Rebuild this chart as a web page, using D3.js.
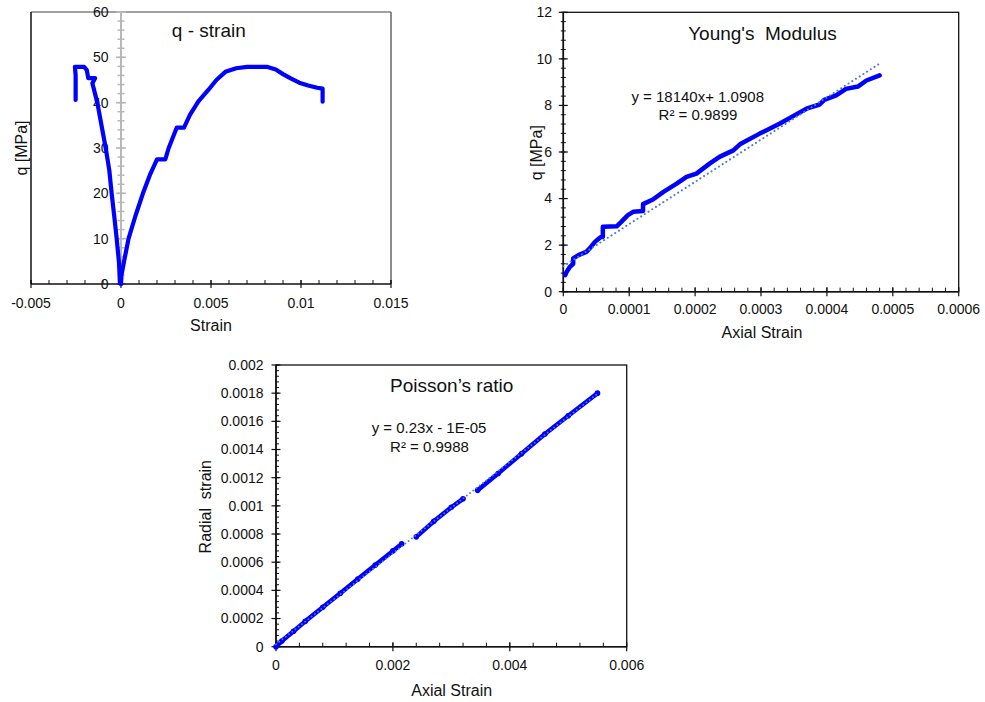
<!DOCTYPE html>
<html>
<head>
<meta charset="utf-8">
<script src="https://cdn.jsdelivr.net/npm/d3@7"></script>
<style>
  html, body { margin: 0; padding: 0; background: #fff; }
  svg { display: block; font-family: "Liberation Sans", Arial, sans-serif; }
</style>
</head>
<body>
<svg id="chart" width="985" height="702"></svg>
<script>
// ---------- q - strain: radial branch (negative strain) and axial branch ----------
const radialStrain = [0, -0.00006, -0.00011, -0.00024, -0.00037, -0.00052, -0.00065, -0.00085, -0.00107, -0.00131, -0.00159, -0.00144, -0.00182, -0.0019, -0.00205, -0.00256, -0.00252, -0.00252];
const radialQ      = [0, 0.2, 4.6, 10, 14.8, 20, 25.1, 30, 34.7, 39.9, 44.3, 45.4, 45.4, 47.2, 47.9, 47.9, 46, 40.6];

const axialStrain = [0, 0.00003, 0.00017, 0.00042, 0.0008, 0.00122, 0.0016, 0.002, 0.00246, 0.00265, 0.0031, 0.0035, 0.00383, 0.0043, 0.00485, 0.0053, 0.0058, 0.0064, 0.007, 0.0081, 0.0086, 0.009, 0.0094, 0.0099, 0.0104, 0.0109, 0.0112, 0.0112];
const axialQ      = [0, 2, 5, 10, 15, 20, 24, 27.5, 27.5, 30, 34.5, 34.5, 37.3, 40.3, 42.8, 45.0, 46.8, 47.6, 47.9, 47.9, 47.3, 46.3, 45.4, 44.4, 43.8, 43.3, 43.1, 40.2];

const qsXTicks = [-0.005, 0, 0.005, 0.01, 0.015];
const qsYTicks = [0, 10, 20, 30, 40, 50, 60];

// ---------- Young's modulus: initial loading range ----------
const ymStrain = [0.000003, 0.000005, 0.00001, 0.000015, 0.000015, 0.000023, 0.000035, 0.00004, 0.000048, 0.000056, 0.00006, 0.00006, 0.000081, 0.000088, 0.000098, 0.000106, 0.000121, 0.000121, 0.000136, 0.000152, 0.000172, 0.000187, 0.000202, 0.000222, 0.000237, 0.000258, 0.000268, 0.000298, 0.000328, 0.000348, 0.000369, 0.000389, 0.000396, 0.000414, 0.000429, 0.000447, 0.00046, 0.00048];
const ymQ      = [0.71, 0.85, 1.07, 1.2, 1.43, 1.57, 1.71, 1.86, 2.14, 2.33, 2.36, 2.79, 2.81, 3.0, 3.29, 3.43, 3.47, 3.76, 3.96, 4.29, 4.64, 4.93, 5.07, 5.5, 5.79, 6.07, 6.33, 6.79, 7.21, 7.53, 7.86, 8.04, 8.24, 8.43, 8.71, 8.81, 9.07, 9.29];
const ymFit      = [18140, 1.0908];      // slope, intercept
const ymFitRange = [0, 0.00048];
const ymFitText  = ["y = 18140x+ 1.0908", "R\u00B2 = 0.9899"];

const ymXTicks = [0, 0.0001, 0.0002, 0.0003, 0.0004, 0.0005, 0.0006];
const ymYTicks = [0, 2, 4, 6, 8, 10, 12];

// ---------- Poisson's ratio: three recorded segments ----------
const prAxial = [
  [0, 0.0001, 0.0003, 0.0005, 0.0008, 0.0011, 0.0014, 0.0017, 0.002, 0.00215],
  [0.0024, 0.0027, 0.003, 0.0032],
  [0.00345, 0.0038, 0.0042, 0.0046, 0.005, 0.0055]
];
const prRadial = [
  [0, 0.00004, 0.00011, 0.00018, 0.00028, 0.00038, 0.00048, 0.00058, 0.00068, 0.00073],
  [0.00078, 0.00089, 0.00099, 0.00105],
  [0.00111, 0.00123, 0.00137, 0.00151, 0.00164, 0.0018]
];
const prFitText = ["y = 0.23x - 1E-05", "R\u00B2 = 0.9988"];

const prXTicks = [0, 0.002, 0.004, 0.006];
const prYTicks = [0, 0.0002, 0.0004, 0.0006, 0.0008, 0.001, 0.0012, 0.0014, 0.0016, 0.0018, 0.002];

// ---------- drawing helpers ----------
const svg = d3.select("#chart");
const DATA = "#0000ff";
const TREND = "#4a7bd0";
const fmt = v => String(+v.toPrecision(6));

function steps(start, end, n) {          // evenly spaced minor tick positions
  return d3.range(n + 1).map(i => start + (end - start) * i / n);
}

function tickMarks(g, values, scale, orient, pos, len, color, width) {
  const sel = g.append("g").selectAll("line").data(values).join("line")
    .attr("stroke", color).attr("stroke-width", width);
  if (orient === "x") {
    sel.attr("x1", d => scale(d)).attr("x2", d => scale(d))
       .attr("y1", pos + len[0]).attr("y2", pos + len[1]);
  } else {
    sel.attr("y1", d => scale(d)).attr("y2", d => scale(d))
       .attr("x1", pos + len[0]).attr("x2", pos + len[1]);
  }
}

function xLabels(g, values, x, cy) {
  g.append("g").selectAll("text").data(values).join("text")
    .attr("x", d => x(d)).attr("y", cy).attr("dy", "0.35em")
    .attr("text-anchor", "middle").attr("font-size", 14).attr("fill", "#111")
    .text(fmt);
}
function yLabels(g, values, y, rx) {
  g.append("g").selectAll("text").data(values).join("text")
    .attr("x", rx).attr("y", d => y(d)).attr("dy", "0.35em")
    .attr("text-anchor", "end").attr("font-size", 14).attr("fill", "#111")
    .text(fmt);
}
function label(g, txt, x, y, size, rotate) {
  const t = g.append("text").attr("font-size", size).attr("fill", "#111")
    .attr("text-anchor", "middle").text(txt);
  if (rotate) t.attr("transform", `translate(${x},${y}) rotate(-90)`);
  else t.attr("x", x).attr("y", y);
  return t;
}

// ================= Panel 1: q - strain =================
(function () {
  const L = 31, R = 391, T = 12, B = 284;
  const x = d3.scaleLinear().domain([-0.005, 0.015]).range([L, R]);
  const y = d3.scaleLinear().domain([0, 60]).range([B, T]);
  const g = svg.append("g");

  g.append("line").attr("x1", L).attr("x2", R).attr("y1", T).attr("y2", T).attr("stroke", "#444").attr("stroke-width", 1.2);
  g.append("line").attr("x1", R).attr("x2", R).attr("y1", T).attr("y2", B).attr("stroke", "#666").attr("stroke-width", 1.5);
  g.append("line").attr("x1", L).attr("x2", L).attr("y1", T).attr("y2", B).attr("stroke", "#111").attr("stroke-width", 1.5);

  // gray vertical axis through zero strain
  const x0 = x(0);
  g.append("line").attr("x1", x0).attr("x2", x0).attr("y1", T).attr("y2", B).attr("stroke", "#b8b8b8").attr("stroke-width", 2);
  tickMarks(g, steps(0, 60, 30), y, "y", x0, [-3.5, 3.5], "#b8b8b8", 1.5);
  tickMarks(g, qsYTicks, y, "y", x0, [-5, 5], "#b8b8b8", 1.5);

  // horizontal axis
  tickMarks(g, steps(-0.005, 0.015, 20), x, "x", B, [-4, 0], "#111", 1);
  tickMarks(g, qsXTicks, x, "x", B, [-4, 4], "#111", 1.2);
  g.append("line").attr("x1", L).attr("x2", R).attr("y1", B).attr("y2", B).attr("stroke", "#111").attr("stroke-width", 1.5);

  yLabels(g, qsYTicks, y, 108.5);
  xLabels(g, qsXTicks, x, 303.5);

  const line = d3.line().x(d => x(d[0])).y(d => y(d[1]));
  [d3.zip(radialStrain, radialQ), d3.zip(axialStrain, axialQ)].forEach(s => {
    g.append("path").attr("d", line(s)).attr("fill", "none").attr("stroke", DATA)
      .attr("stroke-width", 4.2).attr("stroke-linejoin", "round").attr("stroke-linecap", "round");
  });

  label(g, "q - strain", 208.8, 36.5, 19);
  label(g, "Strain", 211, 330.6, 16);
  label(g, "q [MPa]", 27.3, 148, 16, true);
})();

// ================= Panel 2: Young's modulus =================
(function () {
  const L = 563.3, R = 958.7, T = 12.3, B = 291.7;
  const x = d3.scaleLinear().domain([0, 0.0006]).range([L, R]);
  const y = d3.scaleLinear().domain([0, 12]).range([B, T]);
  const g = svg.append("g");

  g.append("rect").attr("x", L).attr("y", T).attr("width", R - L).attr("height", B - T)
    .attr("fill", "none").attr("stroke", "#111").attr("stroke-width", 1.3);

  tickMarks(g, steps(0, 12, 30), y, "y", L, [-2.5, 2.5], "#111", 1);
  tickMarks(g, ymYTicks, y, "y", L, [-4.5, 4.5], "#111", 1.2);
  tickMarks(g, steps(0, 0.0006, 30), x, "x", B, [-4, 0], "#111", 1);
  tickMarks(g, ymXTicks, x, "x", B, [-4.5, 4.5], "#111", 1.2);
  g.append("line").attr("x1", L).attr("x2", L).attr("y1", T).attr("y2", B).attr("stroke", "#111").attr("stroke-width", 1.6);
  g.append("line").attr("x1", L).attr("x2", R).attr("y1", B).attr("y2", B).attr("stroke", "#111").attr("stroke-width", 1.6);

  yLabels(g, ymYTicks, y, 552);
  xLabels(g, ymXTicks, x, 309.5);

  const line = d3.line().x(d => x(d[0])).y(d => y(d[1]));
  g.append("path").attr("d", line(d3.zip(ymStrain, ymQ))).attr("fill", "none").attr("stroke", DATA)
    .attr("stroke-width", 4.5).attr("stroke-linejoin", "round").attr("stroke-linecap", "round");

  const fit = ymFitRange.map(v => [v, ymFit[0] * v + ymFit[1]]);
  g.append("path").attr("d", line(fit)).attr("fill", "none").attr("stroke", TREND)
    .attr("stroke-width", 2).attr("stroke-linecap", "round").attr("stroke-dasharray", "0.1 4.3");

  label(g, "Young's  Modulus", 762.5, 40, 19).style("white-space", "pre");
  label(g, ymFitText[0], 697.7, 101.7, 15);
  label(g, ymFitText[1], 698, 120, 15);
  label(g, "Axial Strain", 762, 338.3, 16);
  label(g, "q [MPa]", 542.3, 152.7, 16, true);
})();

// ================= Panel 3: Poisson's ratio =================
(function () {
  const L = 276, R = 626.7, T = 365, B = 646.7;
  const x = d3.scaleLinear().domain([0, 0.006]).range([L, R]);
  const y = d3.scaleLinear().domain([0, 0.002]).range([B, T]);
  const g = svg.append("g");

  g.append("rect").attr("x", L).attr("y", T).attr("width", R - L).attr("height", B - T)
    .attr("fill", "none").attr("stroke", "#111").attr("stroke-width", 1.3);

  tickMarks(g, steps(0, 0.002, 50), y, "y", L, [0, 3], "#111", 1);
  tickMarks(g, prYTicks, y, "y", L, [-4.5, 4.5], "#111", 1.2);
  tickMarks(g, steps(0, 0.006, 15), x, "x", B, [-4, 0], "#111", 1);
  tickMarks(g, prXTicks, x, "x", B, [-4.5, 4.5], "#111", 1.2);
  g.append("line").attr("x1", L).attr("x2", L).attr("y1", T).attr("y2", B).attr("stroke", "#111").attr("stroke-width", 1.6);
  g.append("line").attr("x1", L).attr("x2", R).attr("y1", B).attr("y2", B).attr("stroke", "#111").attr("stroke-width", 1.6);

  yLabels(g, prYTicks, y, 263.5);
  xLabels(g, prXTicks, x, 665);

  const line = d3.line().x(d => x(d[0])).y(d => y(d[1]));
  const segs = prAxial.map((xs, i) => d3.zip(xs, prRadial[i]));
  segs.forEach(s => {
    g.append("path").attr("d", line(s)).attr("fill", "none").attr("stroke", DATA)
      .attr("stroke-width", 4.5).attr("stroke-linejoin", "round").attr("stroke-linecap", "round");
    g.append("g").selectAll("circle").data(s).join("circle")
      .attr("cx", d => x(d[0])).attr("cy", d => y(d[1])).attr("r", 2.8).attr("fill", DATA);
  });

  // least-squares trend line through all recorded points
  const pts = segs.flat();
  const mx = d3.mean(pts, d => d[0]), my = d3.mean(pts, d => d[1]);
  const slope = d3.sum(pts, d => (d[0] - mx) * (d[1] - my)) / d3.sum(pts, d => (d[0] - mx) ** 2);
  const icpt = my - slope * mx;
  const xr = d3.extent(pts, d => d[0]);
  g.append("path").attr("d", line(xr.map(v => [v, slope * v + icpt]))).attr("fill", "none")
    .attr("stroke", TREND).attr("stroke-width", 1.8).attr("stroke-linecap", "round").attr("stroke-dasharray", "0.1 4");

  label(g, "Poisson\u2019s ratio", 451.7, 391.5, 19);
  label(g, prFitText[0], 429, 433.3, 15);
  label(g, prFitText[1], 429.5, 451.7, 15);
  label(g, "Axial Strain", 451.7, 695.6, 16);
  label(g, "Radial  strain", 210.6, 506.7, 16, true).style("white-space", "pre");
})();
</script>
</body>
</html>
